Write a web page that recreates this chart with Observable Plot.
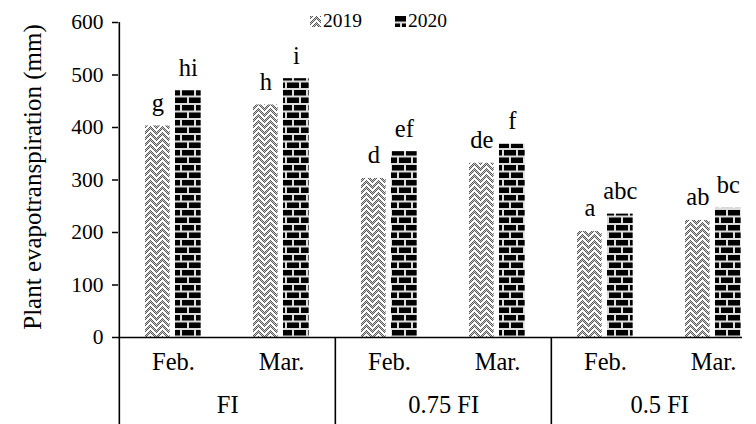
<!DOCTYPE html>
<html><head><meta charset="utf-8">
<script src="https://cdn.jsdelivr.net/npm/d3@7"></script>
<script src="https://cdn.jsdelivr.net/npm/@observablehq/plot@0.6"></script>
<style>
body{margin:0;background:#fff;}
#wrap{position:relative;width:756px;height:424px;font-family:"Liberation Serif","Times New Roman",serif;color:#000;}
#wrap > svg{position:absolute;left:0;top:0;}
#wrap svg, #wrap svg text{font-family:"Liberation Serif","Times New Roman",serif !important;font-variant:normal !important;}
.leg{position:absolute;top:9px;display:flex;align-items:center;font-size:19.5px;line-height:24px;font-family:"Liberation Serif","Times New Roman",serif;}
#wrap .leg svg{position:static;margin-right:2px;}
</style></head><body><div id="wrap"></div>
<script>
const groups = ["FI", "0.75 FI", "0.5 FI"];
const months = ["Feb.", "Mar."];
const years = ["2019", "2020"];
const values2019 = [403, 443, 303, 332, 202, 223];
const values2020 = [470, 493, 354, 368, 235, 246];
const letters2019 = ["g", "h", "d", "de", "a", "ab"];
const letters2020 = ["hi", "i", "ef", "f", "abc", "bc"];
const yTicks = [0, 100, 200, 300, 400, 500, 600];
const yLabel = "Plant evapotranspiration (mm)";

const cats = groups.flatMap(g => months.map(m => ({group: g, month: m, key: g + "|" + m})));
const r19 = cats.map((c, i) => ({...c, year: years[0], value: values2019[i], letter: letters2019[i]}));
const r20 = cats.map((c, i) => ({...c, year: years[1], value: values2020[i], letter: letters2020[i]}));
const groupStarts = groups.map(g => cats.find(c => c.group === g));

const W = 756, H = 424, mL = 118, mR = 14, mT = 22, mB = 87;
const bw = 108.33;
const xRange = [mL, mL + cats.length * bw];
const font = '"Liberation Serif","Times New Roman",serif';

const chart = Plot.plot({
  width: W, height: H, marginLeft: mL, marginRight: mR, marginTop: mT, marginBottom: mB,
  style: {fontFamily: font, fontSize: "21px", color: "#000", background: "#fff", overflow: "visible"},
  x: {type: "band", domain: cats.map(c => c.key), range: xRange, padding: 0, axis: null},
  y: {domain: [0, 600], axis: null},
  marks: [
    Plot.barY(r19, {x: "key", y: "value", fill: "url(#pat2019)", insetLeft: 26, insetRight: bw - 51}),
    Plot.barY(r20, {x: "key", y: "value", fill: "url(#pat2020)", insetLeft: 56, insetRight: bw - 82}),
    Plot.text(r19, {x: "key", y: "value", text: "letter", dx: 38.5 - bw / 2, dy: -15, lineAnchor: "bottom", fontSize: 24.5, fill: "#000"}),
    Plot.text(r20, {x: "key", y: "value", text: "letter", dx: 69 - bw / 2, dy: -15, lineAnchor: "bottom", fontSize: 24.5, fill: "#000"}),
    Plot.axisY({ticks: yTicks, tickSize: 6, tickFormat: () => "", label: null, strokeWidth: 1.5}),
    Plot.text(yTicks, {y: d => d, text: d => String(d), frameAnchor: "left", textAnchor: "end", dx: -15, fontSize: 21.5, fill: "#000"}),
    Plot.ruleY([0], {stroke: "#000", strokeWidth: 1.6}),
    Plot.ruleX([cats[0]], {x: "key", dx: -bw / 2, y1: -166, y2: 600, stroke: "#000", strokeWidth: 1.6}),
    Plot.ruleX(groupStarts.slice(1), {x: "key", dx: -bw / 2, y1: 0, y2: -166, stroke: "#000", strokeWidth: 1.6}),
    Plot.text(cats, {x: "key", text: "month", frameAnchor: "bottom", dy: 32, fontSize: 24.5, fill: "#000"}),
    Plot.text(groupStarts, {x: "key", text: "group", frameAnchor: "bottom", dx: bw / 2, dy: 75, fontSize: 24.5, fill: "#000"}),
    Plot.text([yLabel], {text: d => d, frameAnchor: "left", textAnchor: "middle", dx: -86, dy: -3, rotate: -90, fontSize: 25, fill: "#000"})
  ]
});

function addPatterns(svgNode) {
  const svg = d3.select(svgNode);
  svg.selectAll("text").attr("font-family", font).style("font-family", font);
  const defs = svg.insert("defs", ":first-child");
  const p20 = defs.append("pattern").attr("id", "pat2020").attr("patternUnits", "userSpaceOnUse").attr("width", 14).attr("height", 15);
  p20.append("rect").attr("width", 14).attr("height", 15).attr("fill", "#dcdcdc");
  p20.append("rect").attr("x", 0).attr("y", 0).attr("width", 12).attr("height", 5.5).attr("fill", "#000");
  p20.append("rect").attr("x", -7).attr("y", 7.5).attr("width", 12).attr("height", 5.5).attr("fill", "#000");
  p20.append("rect").attr("x", 7).attr("y", 7.5).attr("width", 12).attr("height", 5.5).attr("fill", "#000");
  const p19 = defs.append("pattern").attr("id", "pat2019").attr("patternUnits", "userSpaceOnUse").attr("width", 12).attr("height", 12);
  p19.append("rect").attr("width", 12).attr("height", 12).attr("fill", "#fff");
  for (let y = 0; y < 12; y++) for (let x = 0; x < 12; x++) {
    const d = ((y - Math.abs(x - 6)) % 6 + 6) % 6;
    if (d < 3 && (x + y) % 2 === 0) p19.append("rect").attr("x", x).attr("y", y).attr("width", 1).attr("height", 1).attr("fill", "#5a5a5a");
    else if (d === 1) p19.append("rect").attr("x", x).attr("y", y).attr("width", 1).attr("height", 1).attr("fill", "#c4c4c4");
  }
}
addPatterns(chart);
const wrap = document.getElementById("wrap");
wrap.appendChild(chart);

const legendItems = [{year: years[0], left: 310}, {year: years[1], left: 395}];
legendItems.forEach(it => {
  const div = document.createElement("div");
  div.className = "leg";
  div.style.left = it.left + "px";
  div.innerHTML = `<svg width="11" height="11"><rect width="11" height="11" fill="url(#pat${it.year})"/></svg><span style="font-family:'Liberation Serif',serif">${it.year}</span>`;
  wrap.appendChild(div);
});
</script></body></html>
